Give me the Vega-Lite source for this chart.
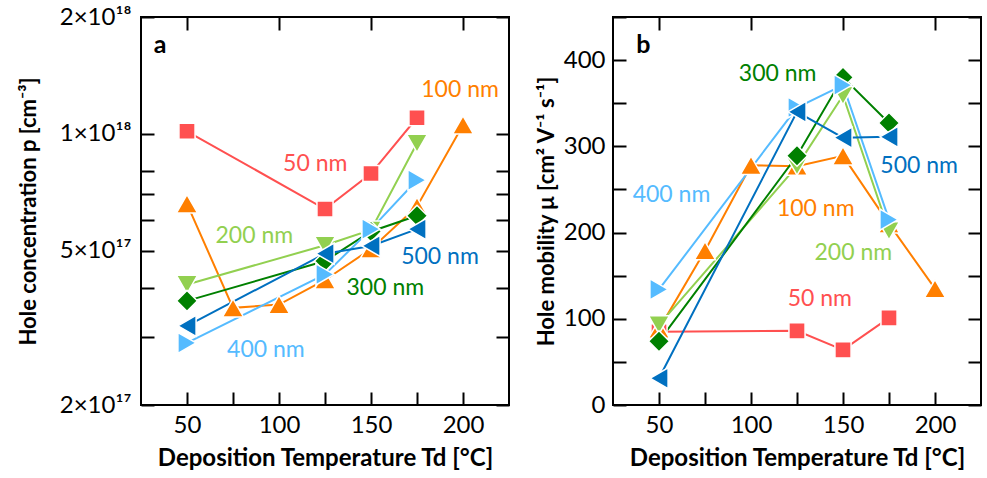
{
  "$schema": "https://vega.github.io/schema/vega-lite/v6.json",
  "background": "white",
  "padding": {"left": 16, "top": 4, "right": 5, "bottom": 5},
  "spacing": 104,
  "bounds": "flush",
  "config": {
    "font": "Lato",
    "view": {"stroke": "black", "strokeWidth": 2},
    "axis": {
      "domain": false,
      "grid": false,
      "ticks": true,
      "tickColor": "black",
      "tickWidth": 2,
      "tickSize": -13,
      "labelColor": "black",
      "labelFontSize": 24,
      "labelFont": "Lato",
      "labelFlush": false,
      "labelOverlap": false,
      "titleColor": "black",
      "titleFont": "Lato",
      "titleFontSize": 22,
      "titleFontWeight": "bold"
    }
  },
  "datasets": {
    "conc": [
      {"s": "50 nm", "T": 50, "v": 1.015e18},
      {"s": "50 nm", "T": 125, "v": 6.4e17},
      {"s": "50 nm", "T": 150, "v": 7.9e17},
      {"s": "50 nm", "T": 175, "v": 1.1e18},
      {"s": "100 nm", "T": 50, "v": 6.6e17},
      {"s": "100 nm", "T": 75, "v": 3.56e17},
      {"s": "100 nm", "T": 100, "v": 3.63e17},
      {"s": "100 nm", "T": 125, "v": 4.2e17},
      {"s": "100 nm", "T": 150, "v": 5.05e17},
      {"s": "100 nm", "T": 175, "v": 6.5e17},
      {"s": "100 nm", "T": 200, "v": 1.054e18},
      {"s": "200 nm", "T": 50, "v": 4.09e17},
      {"s": "200 nm", "T": 125, "v": 5.16e17},
      {"s": "200 nm", "T": 150, "v": 5.65e17},
      {"s": "200 nm", "T": 175, "v": 9.45e17},
      {"s": "300 nm", "T": 50, "v": 3.71e17},
      {"s": "300 nm", "T": 125, "v": 4.7e17},
      {"s": "300 nm", "T": 150, "v": 5.6e17},
      {"s": "300 nm", "T": 175, "v": 6.15e17},
      {"s": "400 nm", "T": 50, "v": 2.89e17},
      {"s": "400 nm", "T": 125, "v": 4.34e17},
      {"s": "400 nm", "T": 150, "v": 5.68e17},
      {"s": "400 nm", "T": 175, "v": 7.6e17},
      {"s": "500 nm", "T": 50, "v": 3.2e17},
      {"s": "500 nm", "T": 125, "v": 4.91e17},
      {"s": "500 nm", "T": 150, "v": 5.14e17},
      {"s": "500 nm", "T": 175, "v": 5.68e17}
    ],
    "labA": [
      {"s": "50 nm", "T": 119.7, "v": 8.37e17, "text": "50 nm"},
      {"s": "100 nm", "T": 198.4, "v": 1.295e18, "text": "100 nm"},
      {"s": "200 nm", "T": 86.6, "v": 5.46e17, "text": "200 nm"},
      {"s": "300 nm", "T": 157.8, "v": 4.01e17, "text": "300 nm"},
      {"s": "400 nm", "T": 92.9, "v": 2.78e17, "text": "400 nm"},
      {"s": "500 nm", "T": 187.5, "v": 4.82e17, "text": "500 nm"}
    ],
    "mob": [
      {"s": "50 nm", "T": 50, "v": 85},
      {"s": "50 nm", "T": 125, "v": 86},
      {"s": "50 nm", "T": 150, "v": 64},
      {"s": "50 nm", "T": 175, "v": 101},
      {"s": "100 nm", "T": 50, "v": 88},
      {"s": "100 nm", "T": 75, "v": 179},
      {"s": "100 nm", "T": 100, "v": 278},
      {"s": "100 nm", "T": 125, "v": 277},
      {"s": "100 nm", "T": 150, "v": 289},
      {"s": "100 nm", "T": 175, "v": 210},
      {"s": "100 nm", "T": 200, "v": 135},
      {"s": "200 nm", "T": 50, "v": 93},
      {"s": "200 nm", "T": 125, "v": 277},
      {"s": "200 nm", "T": 150, "v": 359},
      {"s": "200 nm", "T": 175, "v": 202},
      {"s": "300 nm", "T": 50, "v": 74},
      {"s": "300 nm", "T": 125, "v": 289},
      {"s": "300 nm", "T": 150, "v": 380},
      {"s": "300 nm", "T": 175, "v": 327},
      {"s": "400 nm", "T": 50, "v": 134},
      {"s": "400 nm", "T": 125, "v": 345},
      {"s": "400 nm", "T": 150, "v": 371},
      {"s": "400 nm", "T": 175, "v": 215},
      {"s": "500 nm", "T": 50, "v": 31},
      {"s": "500 nm", "T": 125, "v": 340},
      {"s": "500 nm", "T": 150, "v": 310},
      {"s": "500 nm", "T": 175, "v": 311}
    ],
    "labB": [
      {"s": "300 nm", "T": 114.5, "v": 384, "text": "300 nm"},
      {"s": "500 nm", "T": 191.4, "v": 276.7, "text": "500 nm"},
      {"s": "400 nm", "T": 56.8, "v": 243.4, "text": "400 nm"},
      {"s": "100 nm", "T": 135.2, "v": 227, "text": "100 nm"},
      {"s": "200 nm", "T": 155.6, "v": 176.7, "text": "200 nm"},
      {"s": "50 nm", "T": 137.4, "v": 122.4, "text": "50 nm"}
    ]
  },
  "hconcat": [
    {
      "width": 368,
      "height": 388,
      "layer": [
        {
          "data": {"name": "conc"},
          "mark": {"type": "line", "strokeWidth": 2},
          "encoding": {
            "x": {"field": "T", "type": "quantitative", "scale": {"domain": [25, 225], "nice": false},
              "axis": {"orient": "bottom", "values": [50, 75, 100, 125, 150, 175, 200],
                "labelExpr": "datum.value % 50 == 0 ? datum.label : ''",
                "labelPadding": 21, "title": "Deposition Temperature Td [°C]", "titlePadding": 9, "titleFontSize": 24,
                "encode": {"ticks": {"update": {"y2": {"signal": "datum.value % 50 == 0 ? -13 : -7"}}}}}},
            "y": {"field": "v", "type": "quantitative", "scale": {"type": "log", "domain": [2e17, 2e18], "nice": false},
              "axis": {"orient": "left", "values": [2e17, 3e17, 4e17, 5e17, 6e17, 7e17, 8e17, 1e18, 2e18],
                "labelExpr": "datum.value == 2e17 ? '2×10¹⁷' : datum.value == 5e17 ? '5×10¹⁷' : datum.value == 1e18 ? '1×10¹⁸' : datum.value == 2e18 ? '2×10¹⁸' : ''",
                "labelPadding": 23, "title": "Hole concentration p [cm⁻³]", "titlePadding": 19,
                "encode": {"ticks": {"update": {"x2": {"signal": "indexof([2e17, 5e17, 1e18, 2e18], datum.value) >= 0 ? 13 : 7"}}}}}},
            "color": {"field": "s", "type": "nominal",
              "scale": {"domain": ["50 nm", "100 nm", "200 nm", "300 nm", "400 nm", "500 nm"],
                "range": ["#FF5050", "#FF7F00", "#92D050", "#008000", "#55BBFF", "#0070C0"]}, "legend": null}
          }
        },
        {
          "data": {"name": "conc"},
          "mark": {"type": "point", "filled": true, "opacity": 1, "stroke": "white", "strokeWidth": 1.5},
          "encoding": {
            "x": {"field": "T", "type": "quantitative", "axis": null},
            "y": {"field": "v", "type": "quantitative", "axis": null},
            "color": {"field": "s", "type": "nominal", "legend": null},
            "shape": {"field": "s", "type": "nominal",
              "scale": {"domain": ["50 nm", "100 nm", "200 nm", "300 nm", "400 nm", "500 nm"],
                "range": ["square", "triangle-up", "triangle-down", "diamond", "triangle-right", "triangle-left"]}, "legend": null},
            "size": {"condition": {"test": "datum.s == '50 nm'", "value": 260}, "value": 440}
          }
        },
        {
          "data": {"name": "labA"},
          "mark": {"type": "text", "fontSize": 23, "align": "center", "baseline": "middle"},
          "encoding": {
            "x": {"field": "T", "type": "quantitative", "axis": null},
            "y": {"field": "v", "type": "quantitative", "axis": null},
            "text": {"field": "text"},
            "color": {"field": "s", "type": "nominal", "legend": null}
          }
        },
        {
          "data": {"values": [{"T": 35.4, "v": 1.69e18, "t": "a"}]},
          "mark": {"type": "text", "fontSize": 25, "fontWeight": "bold", "color": "black", "align": "center", "baseline": "middle"},
          "encoding": {
            "x": {"field": "T", "type": "quantitative", "axis": null},
            "y": {"field": "v", "type": "quantitative", "axis": null},
            "text": {"field": "t"}
          }
        },
        {
          "data": {"name": "conc"},
          "mark": {"type": "point", "opacity": 0},
          "encoding": {
            "x": {"field": "T", "type": "quantitative",
              "axis": {"orient": "top", "values": [50, 100, 150, 200], "labels": false, "title": null,
                "encode": {"ticks": {"update": {"y2": {"value": 13}}}}}},
            "y": {"field": "v", "type": "quantitative",
              "axis": {"orient": "right", "values": [2e17, 3e17, 4e17, 5e17, 6e17, 7e17, 8e17, 1e18, 2e18], "labels": false, "title": null,
                "encode": {"ticks": {"update": {"x2": {"signal": "indexof([2e17, 5e17, 1e18, 2e18], datum.value) >= 0 ? -13 : -7"}}}}}}
          }
        }
      ],
      "resolve": {"axis": {"x": "independent", "y": "independent"}}
    },
    {
      "width": 368,
      "height": 388,
      "layer": [
        {
          "data": {"name": "mob"},
          "mark": {"type": "line", "strokeWidth": 2},
          "encoding": {
            "x": {"field": "T", "type": "quantitative", "scale": {"domain": [25, 225], "nice": false},
              "axis": {"orient": "bottom", "values": [50, 75, 100, 125, 150, 175, 200],
                "labelExpr": "datum.value % 50 == 0 ? datum.label : ''",
                "labelPadding": 21, "title": "Deposition Temperature Td [°C]", "titlePadding": 9, "titleFontSize": 24,
                "encode": {"ticks": {"update": {"y2": {"signal": "datum.value % 50 == 0 ? -13 : -7"}}}}}},
            "y": {"field": "v", "type": "quantitative", "scale": {"domain": [0, 450], "nice": false},
              "axis": {"orient": "left", "values": [0, 50, 100, 150, 200, 250, 300, 350, 400, 450],
                "labelExpr": "datum.value % 100 == 0 ? datum.label : ''",
                "labelPadding": 21, "title": "Hole mobility μ [cm² V⁻¹ s⁻¹]", "titlePadding": 5,
                "encode": {"ticks": {"update": {"x2": {"value": 13}}}}}},
            "color": {"field": "s", "type": "nominal",
              "scale": {"domain": ["50 nm", "100 nm", "200 nm", "300 nm", "400 nm", "500 nm"],
                "range": ["#FF5050", "#FF7F00", "#92D050", "#008000", "#55BBFF", "#0070C0"]}, "legend": null}
          }
        },
        {
          "data": {"name": "mob"},
          "mark": {"type": "point", "filled": true, "opacity": 1, "stroke": "white", "strokeWidth": 1.5},
          "encoding": {
            "x": {"field": "T", "type": "quantitative", "axis": null},
            "y": {"field": "v", "type": "quantitative", "axis": null},
            "color": {"field": "s", "type": "nominal", "legend": null},
            "shape": {"field": "s", "type": "nominal",
              "scale": {"domain": ["50 nm", "100 nm", "200 nm", "300 nm", "400 nm", "500 nm"],
                "range": ["square", "triangle-up", "triangle-down", "diamond", "triangle-right", "triangle-left"]}, "legend": null},
            "size": {"condition": {"test": "datum.s == '50 nm'", "value": 260}, "value": 440}
          }
        },
        {
          "data": {"name": "labB"},
          "mark": {"type": "text", "fontSize": 23, "align": "center", "baseline": "middle"},
          "encoding": {
            "x": {"field": "T", "type": "quantitative", "axis": null},
            "y": {"field": "v", "type": "quantitative", "axis": null},
            "text": {"field": "text"},
            "color": {"field": "s", "type": "nominal", "legend": null}
          }
        },
        {
          "data": {"values": [{"T": 41.5, "v": 417, "t": "b"}]},
          "mark": {"type": "text", "fontSize": 25, "fontWeight": "bold", "color": "black", "align": "center", "baseline": "middle"},
          "encoding": {
            "x": {"field": "T", "type": "quantitative", "axis": null},
            "y": {"field": "v", "type": "quantitative", "axis": null},
            "text": {"field": "t"}
          }
        },
        {
          "data": {"name": "mob"},
          "mark": {"type": "point", "opacity": 0},
          "encoding": {
            "x": {"field": "T", "type": "quantitative",
              "axis": {"orient": "top", "values": [50, 100, 150, 200], "labels": false, "title": null,
                "encode": {"ticks": {"update": {"y2": {"value": 13}}}}}},
            "y": {"field": "v", "type": "quantitative",
              "axis": {"orient": "right", "values": [0, 50, 100, 150, 200, 250, 300, 350, 400, 450], "labels": false, "title": null,
                "encode": {"ticks": {"update": {"x2": {"value": -13}}}}}}
          }
        }
      ],
      "resolve": {"axis": {"x": "independent", "y": "independent"}}
    }
  ]
}
